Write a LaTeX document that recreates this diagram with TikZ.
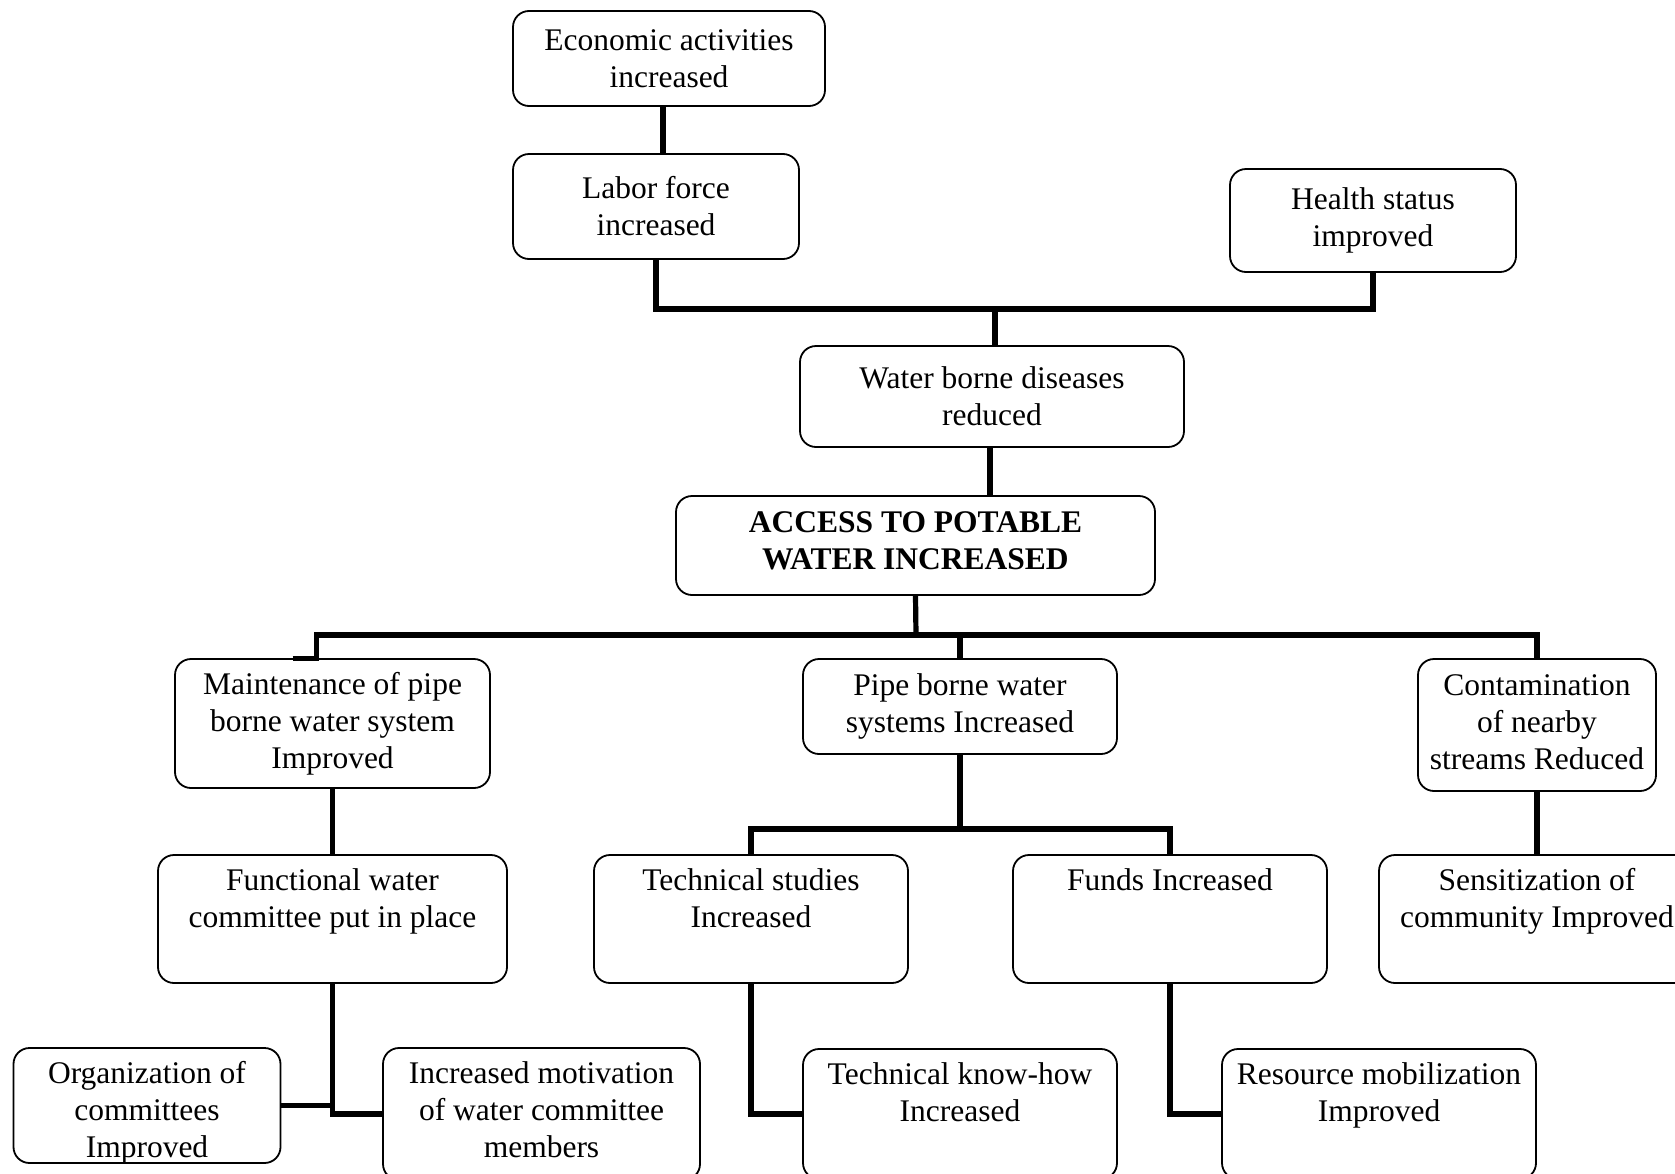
\documentclass[tikz,border=0pt]{standalone}
\usepackage{fontspec}
\setmainfont{Liberation Serif}
\usetikzlibrary{calc}
\begin{document}
\begin{tikzpicture}[x=1pt,y=-1pt,
  box/.style={draw=black, line width=1.8pt, rounded corners=16pt, inner sep=0pt,
    align=center, font=\fontsize{31.5}{37}\selectfont},
  toptext/.style={anchor=north, inner sep=0pt, align=center,
    font=\fontsize{31.5}{37}\selectfont},
  conn/.style={line width=5.2pt, line join=miter, draw=black}]
\useasboundingbox (0,0) rectangle (1675,1173);
\clip (0,0) rectangle (1675,1173);
\fill[white] (0,0) rectangle (1675,1173);

% upper chain of effects
\node[box, minimum width=312pt, minimum height=95pt] (econ) at (669,58.5) {Economic activities\\increased};
\node[box, minimum width=286pt, minimum height=105pt] (lab) at (656,206.5) {Labor force\\increased};
\node[box, minimum width=286pt, minimum height=103pt] (hs) at (1373,220.5) {Health status\\improved};
\node[box, minimum width=384pt, minimum height=101pt] (wb) at (992,396.5) {Water borne diseases\\reduced};
\node[box, minimum width=479pt, minimum height=99pt] (acc) at (915.5,545.5) {};
\node[toptext, anchor=center, font=\fontsize{31.5}{37}\selectfont\bfseries] (acct) at ([yshift=5pt]acc.center) {ACCESS TO POTABLE\\WATER INCREASED};

% first row of causes
\node[box, minimum width=315pt, minimum height=129pt] (mnt) at (332.5,723.5) {Maintenance of pipe\\borne water system\\Improved};
\node[box, minimum width=314pt, minimum height=95pt] (pipe) at (960,706.5) {Pipe borne water\\systems Increased};
\node[box, minimum width=238pt, minimum height=132pt] (cont) at (1537,725) {};
\node[toptext, anchor=center] (contt) at ([yshift=3pt]cont.center) {Contamination\\of nearby\\streams Reduced};

% second row of causes
\node[box, minimum width=349pt, minimum height=128pt] (fwc) at (332.5,919) {};
\node[toptext] (fwct) at ([yshift=-14pt]fwc.north) {Functional water\\committee put in place};
\node[box, minimum width=314pt, minimum height=128pt] (ts) at (751,919) {};
\node[toptext] (tst) at ([yshift=-14pt]ts.north) {Technical studies\\Increased};
\node[box, minimum width=314pt, minimum height=128pt] (fu) at (1170,919) {};
\node[toptext] (fut) at ([yshift=-14pt]fu.north) {Funds Increased};
\node[box, minimum width=316pt, minimum height=128pt] (sens) at (1537,919) {};
\node[toptext] (senst) at ([yshift=-14pt]sens.north) {Sensitization of\\community Improved};

% third row of causes
\node[box, minimum width=267pt, minimum height=115pt] (org) at (147,1105.5) {};
\node[toptext] (orgt) at ([yshift=-14pt]org.north) {Organization of\\committees\\Improved};
\node[box, minimum width=317pt, minimum height=132pt] (mot) at (541.5,1114) {};
\node[toptext] (mott) at ([yshift=-14pt]mot.north) {Increased motivation\\of water committee\\members};
\node[box, minimum width=314pt, minimum height=130pt] (kh) at (960,1114) {};
\node[toptext] (kht) at ([yshift=-14pt]kh.north) {Technical know-how\\Increased};
\node[box, minimum width=314pt, minimum height=130pt] (rm) at (1379,1114) {};
\node[toptext] (rmt) at ([yshift=-14pt]rm.north) {Resource mobilization\\Improved};

% bus points
\coordinate (busA) at (995,309);
\coordinate (busB) at (916,635);
\coordinate (busC) at (960,829);
\coordinate (stub) at ([xshift=-40pt]mnt.north);

% connectors
\draw[conn] ([xshift=-6pt]econ.south) -- ([xshift=-6pt]econ.south |- lab.north);
\draw[conn] (lab.south) |- (busA -| hs.south) -- (hs.south);
\draw[conn] (busA) -- (busA |- wb.north);
\draw[conn] ([xshift=-2pt]wb.south) -- ([xshift=-2pt]wb.south |- acc.north);
\draw[conn] (acc.south) -- (busB);
\draw[conn] (stub) -| ([xshift=-16pt]mnt.north |- busB) -| (cont.north);
\draw[conn] (busB -| pipe.north) -- (pipe.north);
\draw[conn] (mnt.south) -- (fwc.north);
\draw[conn] (pipe.south) -- (busC);
\draw[conn] (ts.north) |- (busC) -| (fu.north);
\draw[conn] (cont.south) -- (sens.north);
\draw[conn] (fwc.south) |- (mot.west);
\draw[conn] (org.east) -- (org.east -| fwc.south);
\draw[conn] (ts.south) |- (kh.west);
\draw[conn] (fu.south) |- (rm.west);
\end{tikzpicture}
\end{document}
